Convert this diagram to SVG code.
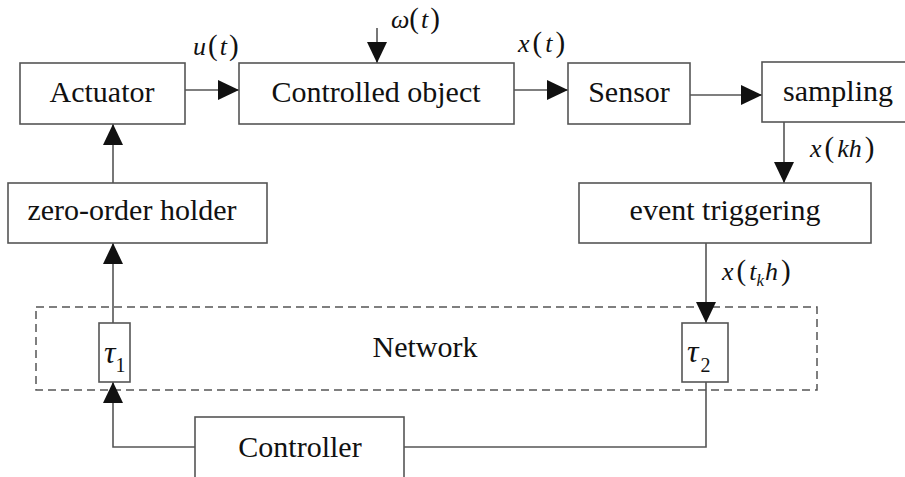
<svg xmlns="http://www.w3.org/2000/svg" width="905" height="477" viewBox="0 0 905 477">
<defs>
<style>
text{font-family:'Liberation Serif','DejaVu Serif','Noto Serif',serif}
.box{fill:#fff;stroke:#555;stroke-width:1.6}
.lbl{font-size:30px;fill:#111;text-anchor:middle}
.m{font-size:26px;fill:#111}
.i{font-style:italic}
.p{font-size:29px}
.conn{fill:none;stroke:#555;stroke-width:1.6}
</style>
<marker id="ah" markerUnits="userSpaceOnUse" markerWidth="22" markerHeight="20" refX="21" refY="10" orient="auto">
<path d="M0,0 L21,10 L0,20 z" fill="#111"/>
</marker>
</defs>
<rect width="905" height="477" fill="#fff"/>
<g font-family="Liberation Serif, DejaVu Serif, serif">
<rect id="network" x="36" y="307" width="781" height="83" fill="none" stroke="#555" stroke-width="1.5" stroke-dasharray="8,5"/>
<text class="lbl" x="425" y="357">Network</text>

<g id="connectors">
<path class="conn" d="M185,90 H239" marker-end="url(#ah)"/>
<path class="conn" d="M377,28 V63" marker-end="url(#ah)"/>
<path class="conn" d="M514,90 H568" marker-end="url(#ah)"/>
<path class="conn" d="M690,95 H762" marker-end="url(#ah)"/>
<path class="conn" d="M784,122 V183" marker-end="url(#ah)"/>
<path class="conn" d="M706,243 V323" marker-end="url(#ah)"/>
<path class="conn" d="M706,382 V447 H404"/>
<path class="conn" d="M195,447 H113 V382" marker-end="url(#ah)"/>
<path class="conn" d="M113,323 V243" marker-end="url(#ah)"/>
<path class="conn" d="M113,183 V124" marker-end="url(#ah)"/>
</g>

<g id="actuator">
<rect class="box" x="20" y="63" width="165" height="61"/>
<text class="lbl" x="102" y="102">Actuator</text>
</g>
<g id="controlled-object">
<rect class="box" x="239" y="63" width="275" height="61"/>
<text class="lbl" x="376" y="102">Controlled object</text>
</g>
<g id="sensor">
<rect class="box" x="568" y="63" width="122" height="61"/>
<text class="lbl" x="629" y="102">Sensor</text>
</g>
<g id="sampling">
<rect class="box" x="762" y="62" width="160" height="60"/>
<text class="lbl" x="838" y="101">sampling</text>
</g>
<g id="zoh">
<rect class="box" x="8" y="183" width="259" height="60"/>
<text class="lbl" x="132" y="220">zero-order holder</text>
</g>
<g id="event-triggering">
<rect class="box" x="579" y="183" width="292" height="60"/>
<text class="lbl" x="725" y="220">event triggering</text>
</g>
<g id="tau1">
<rect class="box" x="99" y="323" width="31" height="59"/>
<text class="m" x="104" y="363"><tspan class="i" font-size="32">τ</tspan><tspan font-size="20" dy="9">1</tspan></text>
</g>
<g id="tau2">
<rect class="box" x="682" y="323" width="46" height="59"/>
<text class="m" x="687" y="362"><tspan class="i" font-size="32">τ</tspan><tspan font-size="20" dx="2" dy="10">2</tspan></text>
</g>
<g id="controller">
<rect class="box" x="195" y="417" width="209" height="80"/>
<text class="lbl" x="300" y="457">Controller</text>
</g>

<g id="labels">
<text class="m" x="193" y="55"><tspan class="i">u</tspan><tspan class="p" dx="2">(</tspan><tspan class="i" dx="2">t</tspan><tspan class="p" dx="2">)</tspan></text>
<text class="m" x="391" y="28"><tspan class="i">ω</tspan><tspan class="p">(</tspan><tspan class="i" dx="2">t</tspan><tspan class="p" dx="2">)</tspan></text>
<text class="m" x="518" y="52"><tspan class="i">x</tspan><tspan class="p" dx="3">(</tspan><tspan class="i" dx="3">t</tspan><tspan class="p" dx="3">)</tspan></text>
<text class="m" x="810" y="157"><tspan class="i">x</tspan><tspan class="p" dx="3">(</tspan><tspan class="i" dx="3">kh</tspan><tspan class="p" dx="3">)</tspan></text>
<text class="m" x="722" y="280"><tspan class="i">x</tspan><tspan class="p" dx="3">(</tspan><tspan class="i" dx="3">t</tspan><tspan class="i" font-size="17" dy="6">k</tspan><tspan class="i" dy="-6" dx="1">h</tspan><tspan class="p" dx="3">)</tspan></text>
</g>
</g>
</svg>
